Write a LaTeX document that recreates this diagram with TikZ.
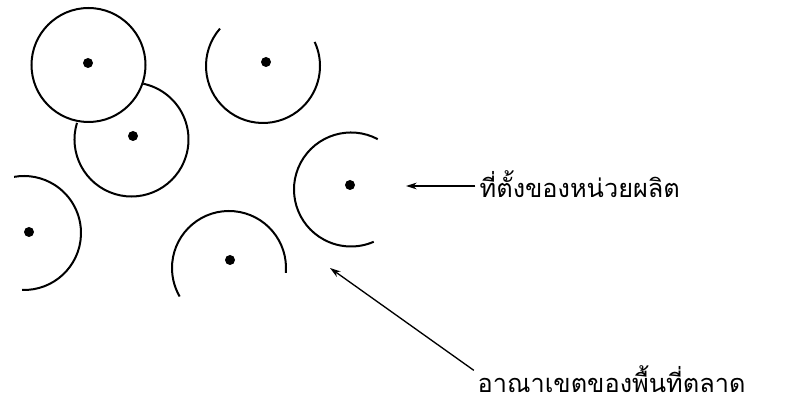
\documentclass[tikz,border=0pt]{standalone}
\usepackage{fontspec}
\newfontfamily\thaifont[Script=Thai]{Loma}
\usetikzlibrary{arrows.meta}

\begin{document}
\begin{tikzpicture}[x=0.75pt, y=0.75pt, >={Stealth[length=8pt, width=5pt]},
    boundary/.style={line width=1.5pt},
    site/.style={circle, fill=black, inner sep=0pt, minimum size=7.5pt},
    pointer/.style={->, line width=1pt, shorten <=2pt},
    caption/.style={anchor=west, inner sep=1pt, font=\thaifont\fontsize{19}{22}\selectfont}]
        \useasboundingbox (0,0) rectangle (793,402);

        % Market areas (arcs) and production sites (dots)
        \draw[boundary] (88.5,337) circle (57);
        \foreach \n/\cx/\cy/\sa/\ea in {b/131.5/262.5/163/438, c/263/336/139/385,
                d/351/212.5/62/293.5, e/229/134/-5/210, f/24/169/-92/100}
            \draw[boundary] ([shift={(\sa:57)}]\cx,\cy) arc[start angle=\sa, end angle=\ea, radius=57];
        \foreach \n/\x/\y in {a/88/339, b/133/266, c/266/340, d/350/217, e/230/142, f/29/170}
            \node[site] (s\n) at (\x,\y) {};

        % Labels
        \node[caption] (lblsite) at (478,218) {ที่ตั้งของหน่วยผลิต};
        \node[caption] (lblarea) at (476,23) {อาณาเขตของพื้นที่ตลาด};
        \coordinate (tipsite) at (406,216);
        \coordinate (tiparea) at (330,134);

        % Pointers
        \draw[pointer] ([yshift=-1.5pt]lblsite.west) -- (tipsite);
        \draw[pointer] ([yshift=-6pt]lblarea.north west) -- (tiparea);
    \end{tikzpicture}
\end{document}
